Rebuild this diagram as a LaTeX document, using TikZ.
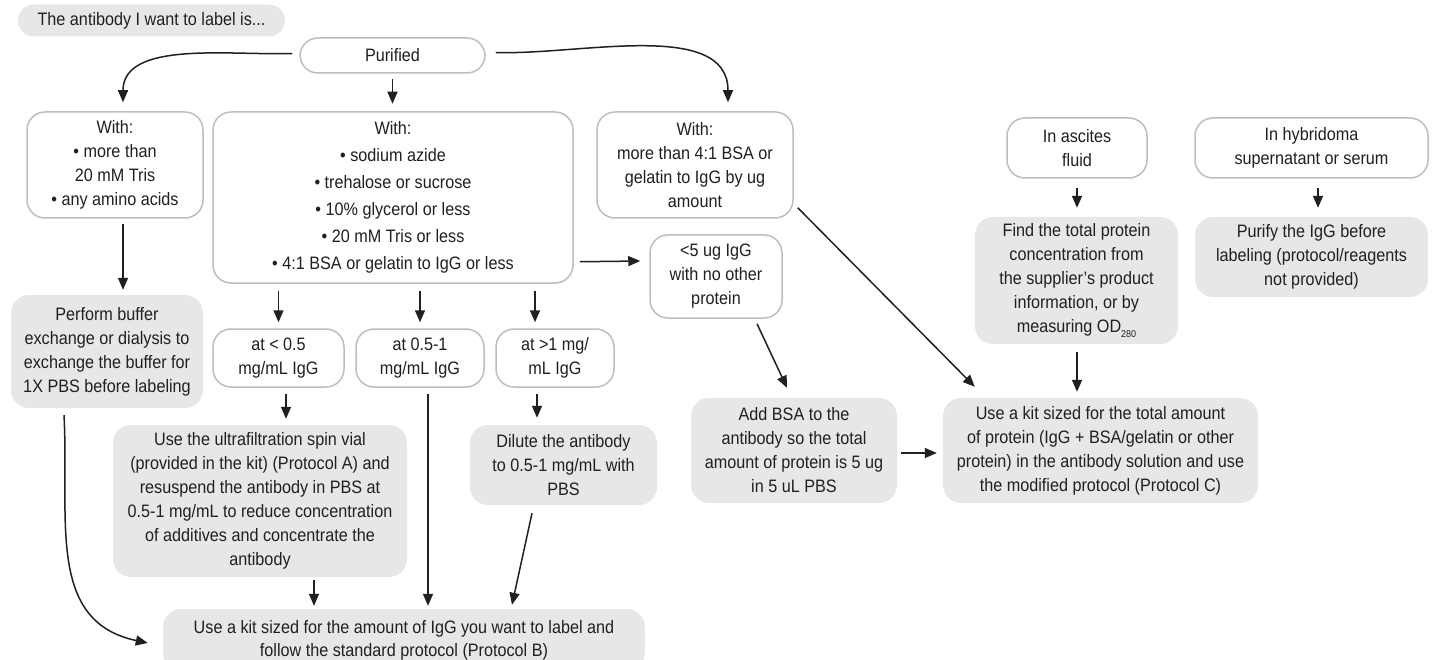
\documentclass[tikz,border=0pt]{standalone}
\usepackage{fontspec}
\setmainfont[FakeStretch=0.9]{Liberation Sans}
\usetikzlibrary{arrows.meta,calc}
\definecolor{boxgray}{HTML}{E6E7E8}
\definecolor{edgegray}{HTML}{BCBEC0}
\definecolor{ink}{HTML}{231F20}
\begin{document}
\begin{tikzpicture}[x=1pt,y=-1pt,
  base/.style={rounded corners=18pt, align=center, inner sep=0pt, text=ink, font=\fontsize{18}{24}\selectfont},
  wbox/.style={base, draw=edgegray, line width=1.5pt, fill=white},
  gbox/.style={base, fill=boxgray},
  arr/.style={draw=ink, line width=1.5pt, -{Triangle[length=12pt,width=10pt]}}]
\useasboundingbox (0,0) rectangle (1439,660);
\clip (0,0) rectangle (1439,660);

% nodes
\node[gbox, rounded corners=16pt, minimum width=267pt, minimum height=32pt] (title) at (151.5,20.5) {The antibody I want to label is...};
\node[wbox, minimum width=185pt, minimum height=35pt] (purified) at (392.5,55.5) {Purified};

\node[wbox, minimum width=176pt, minimum height=106pt] (w1) at (115,165)
  {With:\\ • more than\\ 20 mM Tris\\ • any amino acids};
\node[wbox, minimum width=360pt, minimum height=171pt, font=\fontsize{18}{27}\selectfont] (w2) at (393,197.5)
  {With:\\ • sodium azide\\ • trehalose or sucrose\\ • 10\% glycerol or less\\ • 20 mM Tris or less\\ • 4:1 BSA or gelatin to IgG or less};
\node[wbox, minimum width=196pt, minimum height=106pt] (w3) at (695,165)
  {With:\\ more than 4:1 BSA or\\ gelatin to IgG by ug\\ amount};
\node[wbox, minimum width=132pt, minimum height=83pt] (lt5) at (716,276.5)
  {<5 ug IgG\\ with no other\\ protein};

\node[wbox, minimum width=140pt, minimum height=60pt] (asc) at (1077,148)
  {In ascites\\ fluid};
\node[wbox, minimum width=233pt, minimum height=60pt] (hyb) at (1311.5,148)
  {In hybridoma\\ supernatant or serum};
\node[gbox, minimum width=203pt, minimum height=127pt] (find) at (1076.5,280.5)
  {Find the total protein\\ concentration from\\ the supplier’s product\\ information, or by\\ measuring OD\raisebox{-0.45ex}{\fontsize{10}{10}\selectfont 280}};
\node[gbox, minimum width=233pt, minimum height=80pt] (purify) at (1311.5,257)
  {Purify the IgG before\\ labeling (protocol/reagents\\ not provided)};

\node[gbox, minimum width=192pt, minimum height=113pt] (perform) at (107,351.5)
  {Perform buffer\\ exchange or dialysis to\\ exchange the buffer for\\ 1X PBS before labeling};

\node[wbox, minimum width=131pt, minimum height=58pt] (c1) at (278.5,358) {at < 0.5\\ mg/mL IgG};
\node[wbox, minimum width=128pt, minimum height=58pt] (c2) at (420,358) {at 0.5-1\\ mg/mL IgG};
\node[wbox, minimum width=118pt, minimum height=58pt] (c3) at (555,358) {at >1 mg/\\ mL IgG};

\node[gbox, minimum width=294pt, minimum height=152pt] (uf) at (260,501)
  {Use the ultrafiltration spin vial\\ (provided in the kit) (Protocol A) and\\ resuspend the antibody in PBS at\\ 0.5-1 mg/mL to reduce concentration\\ of additives and concentrate the\\ antibody};
\node[gbox, minimum width=187pt, minimum height=80pt] (dil) at (563.5,465)
  {Dilute the antibody\\ to 0.5-1 mg/mL with\\ PBS};
\node[gbox, minimum width=206pt, minimum height=105pt] (addbsa) at (794,450.5)
  {Add BSA to the\\ antibody so the total\\ amount of protein is 5 ug\\ in 5 uL PBS};
\node[gbox, minimum width=315pt, minimum height=105pt] (protc) at (1100.5,450.5)
  {Use a kit sized for the total amount\\ of protein (IgG + BSA/gelatin or other\\ protein) in the antibody solution and use\\ the modified protocol (Protocol C)};
\node[gbox, minimum width=482pt, minimum height=62pt, font=\fontsize{18}{23}\selectfont] (protb) at (404,640)
  {Use a kit sized for the amount of IgG you want to label and\\ follow the standard protocol (Protocol B)};

% connectors
\draw[arr] ($(purified.west)+(-7,-2)$) to[out=182,in=90,looseness=0.9] ($(w1.north)+(8,-9)$);
\draw[arr] ($(purified.south)+(0,5)$) -- ($(purified.south)+(0,30)$);
\draw[arr] ($(purified.east)+(10,-3)$) to[out=-2,in=90,looseness=0.9] ($(w3.north)+(33,-9)$);

\draw[arr] ($(w1.south)+(8,5)$) -- ($(perform.north)+(16,-5)$);

\draw[arr] ($(c1.north |- w2.south)+(0,7)$) -- ($(c1.north)+(0,-6)$);
\draw[arr] ($(c2.north |- w2.south)+(0,7)$) -- ($(c2.north)+(0,-6)$);
\draw[arr] ($(c3.north |- w2.south)+(-20,7)$) -- ($(c3.north)+(-20,-6)$);
\draw[arr] ($(w2.south east)+(6,-22)$) -- ($(lt5.west)+(-9,-15.5)$);

\draw[arr] ($(c1.south)+(7.5,6)$) -- ($(uf.north)+(26,-6)$);
\draw[arr] ($(c2.south)+(8,6)$) -- ($(protb.north)+(24,-3)$);
\draw[arr] ($(c3.south)+(-18,6)$) -- ($(dil.north)+(-26.5,-7)$);
\draw[arr] ($(uf.south)+(54,3)$) -- ($(protb.north)+(-90,-3)$);
\draw[arr] ($(dil.south)+(-31.5,8)$) -- ($(protb.north)+(108,-4)$);
\draw[arr] ($(perform.south)+(-43,7)$) to[out=-87,in=168,looseness=1.1] ($(protb.west)+(-15,3)$);

\draw[arr] ($(w3.south east)+(4,-11)$) -- ($(protc.north west)+(32,-11)$);
\draw[arr] ($(lt5.south)+(41,5)$) -- ($(addbsa.north)+(-7,-10)$);
\draw[arr] ($(addbsa.east)+(4,2.5)$) -- ($(protc.west)+(-6,2.5)$);

\draw[arr] ($(asc.south)+(0,9)$) -- ($(find.north)+(0.5,-9)$);
\draw[arr] ($(hyb.south)+(6.5,9)$) -- ($(purify.north)+(6.5,-9)$);
\draw[arr] ($(find.south)+(0.5,8)$) -- ($(protc.north)+(-23.5,-6)$);
\end{tikzpicture}
\end{document}
